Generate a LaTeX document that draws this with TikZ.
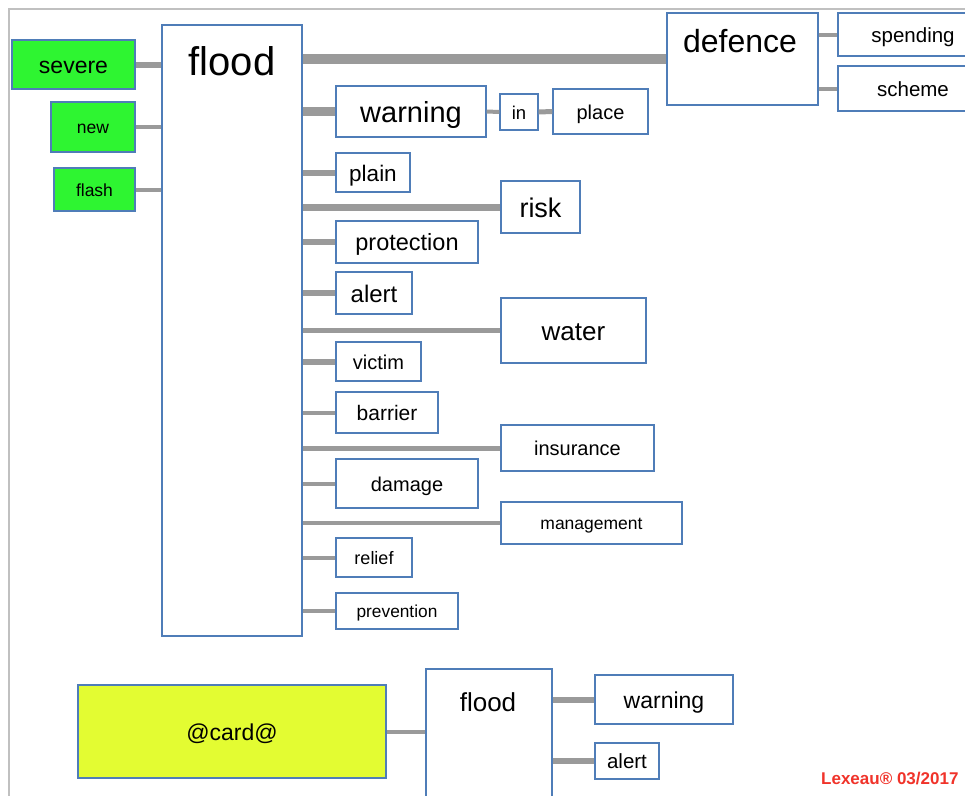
\documentclass[tikz,border=0pt]{standalone}
\usepackage{fontspec}
\setmainfont{Liberation Sans}
\definecolor{bx}{HTML}{4F7DB8}
\definecolor{ln}{HTML}{9A9A9A}
\definecolor{grn}{HTML}{2EF531}
\definecolor{yel}{HTML}{E3FC32}
\definecolor{frm}{HTML}{C0C0C0}
\definecolor{lex}{HTML}{F0332A}
\newcommand\fsz[1]{\fontsize{#1}{#1}\selectfont}
\newcommand\tx[1]{\raisebox{-0.12em}[0.52em][0pt]{#1}}
\tikzset{
  box/.style={draw=bx, line width=1.3pt, fill=white, rectangle, inner sep=0pt},
  gbox/.style={box, fill=grn},
  ybox/.style={box, fill=yel},
  conn/.style={draw=ln},
}
\begin{document}
\begin{tikzpicture}[x=1pt,y=-1pt]
\useasboundingbox (0,0) rectangle (965,795);
\draw[frm, line width=1.2pt] (9,800) -- (9,9) -- (975,9);

% left green boxes
\node[gbox, minimum width=123, minimum height=49, font=\fsz{23}] (severe) at (73.5,64.5) {\tx{severe}};
\node[gbox, minimum width=84, minimum height=50, font=\fsz{17.5}] (new) at (93,127) {\tx{new}};
\node[gbox, minimum width=81, minimum height=43, font=\fsz{17.5}] (flash) at (94.5,189.5) {\tx{flash}};

% main flood box
\node[box, minimum width=140, minimum height=611] (flood) at (232,330.5) {};
\node[font=\fsz{40}] (floodlbl) at (232,61) {flood};

% defence
\node[box, minimum width=151, minimum height=92] (defence) at (742.5,59) {};
\node[font=\fsz{32}] (defencelbl) at (740,41) {defence};
\node[box, minimum width=150, minimum height=43, font=\fsz{20.5}, text width=127, align=center] (spending) at (913,34.5) {\tx{spending}};
\node[box, minimum width=150, minimum height=45, font=\fsz{20.5}, text width=127, align=center] (scheme) at (913,88.5) {\tx{scheme}};

% column
\node[box, minimum width=150, minimum height=51, font=\fsz{29}] (warning) at (411,111.5) {\tx{warning}};
\node[box, minimum width=38, minimum height=36, font=\fsz{18.5}] (in) at (519,112) {\tx{in}};
\node[box, minimum width=95, minimum height=45, font=\fsz{20}] (place) at (600.5,111.5) {\tx{place}};
\node[box, minimum width=74, minimum height=39, font=\fsz{22.5}] (plain) at (373,172.5) {\tx{plain}};
\node[box, minimum width=79, minimum height=52, font=\fsz{27}] (risk) at (540.5,207) {\tx{risk}};
\node[box, minimum width=142, minimum height=42, font=\fsz{23.5}] (protection) at (407,242) {\tx{protection}};
\node[box, minimum width=76, minimum height=42, font=\fsz{24}] (alert) at (374,293) {\tx{alert}};
\node[box, minimum width=145, minimum height=65, font=\fsz{26}] (water) at (573.5,330.5) {\tx{water}};
\node[box, minimum width=85, minimum height=39, font=\fsz{20}] (victim) at (378.5,361.5) {\tx{victim}};
\node[box, minimum width=102, minimum height=41, font=\fsz{21}] (barrier) at (387,412.5) {\tx{barrier}};
\node[box, minimum width=153, minimum height=46, font=\fsz{20}] (insurance) at (577.5,448) {\tx{insurance}};
\node[box, minimum width=142, minimum height=49, font=\fsz{20}] (damage) at (407,483.5) {\tx{damage}};
\node[box, minimum width=181, minimum height=42, font=\fsz{17.5}] (management) at (591.5,523) {\tx{management}};
\node[box, minimum width=76, minimum height=39, font=\fsz{18}] (relief) at (374,557.5) {\tx{relief}};
\node[box, minimum width=122, minimum height=36, font=\fsz{17.3}] (prevention) at (397,611) {\tx{prevention}};

% bottom
\node[ybox, minimum width=308, minimum height=93, font=\fsz{23}] (card) at (232,731.5) {\tx{@card@}};
\node[box, minimum width=126, minimum height=136] (flood2) at (489,737) {};
\node[font=\fsz{26}] (flood2lbl) at (488,702) {flood};
\node[box, minimum width=138, minimum height=49, font=\fsz{23}] (warning2) at (664,699.5) {\tx{warning}};
\node[box, minimum width=64, minimum height=36, font=\fsz{20.5}] (alert2) at (627,761) {\tx{alert}};

\node[font=\bfseries\fsz{17}, text=lex, anchor=east] (lex) at (962,778) {Lexeau® 03/2017};

% connectors
\draw[conn, line width=6pt] (severe.east) -- (severe.east -| flood.west);
\draw[conn, line width=4pt] (new.east) -- (new.east -| flood.west);
\draw[conn, line width=4pt] (flash.east) -- (flash.east -| flood.west);
\draw[conn, line width=10pt] (flood.east |- defence.west) -- (defence.west);
\draw[conn, line width=4pt] (defence.east |- spending.west) -- (spending.west);
\draw[conn, line width=4pt] (defence.east |- scheme.west) -- (scheme.west);
\draw[conn, line width=9pt] (flood.east |- warning.west) -- (warning.west);
\draw[conn, line width=4pt] (warning.east) -- (in.west);
\draw[conn, line width=5pt] (in.east) -- (place.west);
\draw[conn, line width=6pt] (flood.east |- plain.west) -- (plain.west);
\draw[conn, line width=7pt] (flood.east |- risk.west) -- (risk.west);
\draw[conn, line width=6pt] (flood.east |- protection.west) -- (protection.west);
\draw[conn, line width=6pt] (flood.east |- alert.west) -- (alert.west);
\draw[conn, line width=5pt] (flood.east |- water.west) -- (water.west);
\draw[conn, line width=6pt] (flood.east |- victim.west) -- (victim.west);
\draw[conn, line width=4pt] (flood.east |- barrier.west) -- (barrier.west);
\draw[conn, line width=5pt] (flood.east |- insurance.west) -- (insurance.west);
\draw[conn, line width=4pt] (flood.east |- damage.west) -- (damage.west);
\draw[conn, line width=4pt] (flood.east |- management.west) -- (management.west);
\draw[conn, line width=4pt] (flood.east |- relief.west) -- (relief.west);
\draw[conn, line width=4pt] (flood.east |- prevention.west) -- (prevention.west);
\draw[conn, line width=4pt] (card.east) -- (card.east -| flood2.west);
\draw[conn, line width=6pt] (flood2.east |- warning2.west) -- (warning2.west);
\draw[conn, line width=6pt] (flood2.east |- alert2.west) -- (alert2.west);
\end{tikzpicture}
\end{document}
